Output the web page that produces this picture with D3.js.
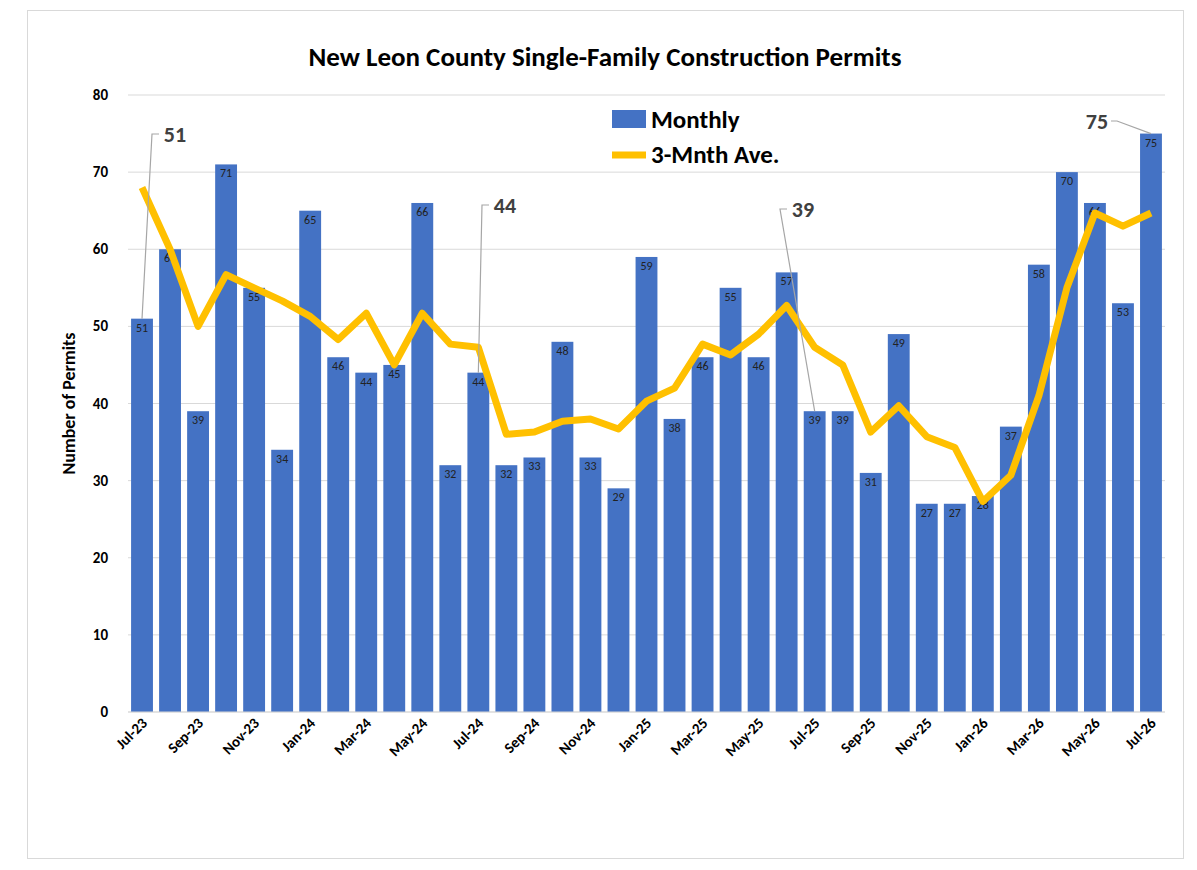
<!DOCTYPE html>
<html><head><meta charset="utf-8">
<script src="https://cdn.jsdelivr.net/npm/d3@7"></script>
<style>body{margin:0;background:#fff;font-family:Calibri,Carlito,"Liberation Sans",sans-serif}</style>
</head><body><div id="chart"></div>
<script>
var months = ["Jul-23","Aug-23","Sep-23","Oct-23","Nov-23","Dec-23","Jan-24","Feb-24","Mar-24","Apr-24","May-24","Jun-24","Jul-24","Aug-24","Sep-24","Oct-24","Nov-24","Dec-24","Jan-25","Feb-25","Mar-25","Apr-25","May-25","Jun-25","Jul-25","Aug-25","Sep-25","Oct-25","Nov-25","Dec-25","Jan-26","Feb-26","Mar-26","Apr-26","May-26","Jun-26","Jul-26"];
var monthly = [51,60,39,71,55,34,65,46,44,45,66,32,44,32,33,48,33,29,59,38,46,55,46,57,39,39,31,49,27,27,28,37,58,70,66,53,75];
var avg3 = [68,60,50,56.7,55,53.3,51.3,48.3,51.7,45,51.7,47.7,47.3,36,36.3,37.7,38,36.7,40.3,42,47.7,46.3,49,52.7,47.3,45,36.3,39.7,35.7,34.3,27.3,30.7,41,55,64.7,63,64.7];
var yTicks = [0,10,20,30,40,50,60,70,80];
var callouts = [
	{m:"Jul-23", text:"51", tx:175, ty:142},
	{m:"Jul-24", text:"44", tx:505, ty:213},
	{m:"Jul-25", text:"39", tx:803, ty:217},
	{m:"Jul-26", text:"75", tx:1097, ty:129}
];

var w = 1197, h = 870;
var left = 128, right = 1165, plotTop = 95, bottom = 712;
var font = "Calibri,Carlito,'Liberation Sans',sans-serif";

var svg = d3.select("#chart").append("svg").attr("width", w).attr("height", h);
svg.append("rect").attr("x",27.5).attr("y",10.5).attr("width",1156).attr("height",848)
	.attr("fill","#fff").attr("stroke","#d9d9d9");

var x = d3.scaleBand().domain(months).range([left, right]).paddingInner(0.22).paddingOuter(0.11);
var y = d3.scaleLinear().domain([0,80]).range([bottom, plotTop]);

//Gridlines
svg.selectAll(".grid").data(yTicks).enter().append("line")
	.attr("x1", left).attr("x2", right)
	.attr("y1", function (d) { return y(d); }).attr("y2", function (d) { return y(d); })
	.attr("stroke","#d9d9d9");

//Y axis labels
svg.selectAll(".yl").data(yTicks).enter().append("text")
	.attr("x", left - 20).attr("y", function (d) { return y(d) + 5; })
	.attr("text-anchor","end").attr("font-size",15).attr("font-weight","bold")
	.attr("font-family", font).text(function (d) { return d; });

//Bars
svg.selectAll(".bar").data(monthly).enter().append("rect")
	.attr("x", function (d, i) { return x(months[i]); })
	.attr("y", function (d) { return y(d); })
	.attr("width", x.bandwidth())
	.attr("height", function (d) { return bottom - y(d); })
	.attr("fill","#4472c4");

//Bar labels
svg.selectAll(".bl").data(monthly).enter().append("text")
	.attr("x", function (d, i) { return x(months[i]) + x.bandwidth() / 2; })
	.attr("y", function (d) { return y(d) + 13; })
	.attr("text-anchor","middle").attr("font-size",12).attr("fill","#222")
	.attr("font-family", font).text(function (d) { return d; });

//Axis line
svg.append("line").attr("x1",left).attr("x2",right).attr("y1",bottom).attr("y2",bottom).attr("stroke","#d9d9d9");

//X labels, every other month
svg.selectAll(".xl").data(months.filter(function (d, i) { return i % 2 == 0; })).enter().append("text")
	.attr("transform", function (d) {
		return "translate(" + (x(d) + x.bandwidth() / 2 + 6) + "," + (bottom + 12) + ")rotate(-45)";
	})
	.attr("text-anchor","end").attr("font-size",15).attr("font-weight","bold")
	.attr("font-family", font).text(function (d) { return d; });

//3-month average line
var line = d3.line()
	.x(function (d, i) { return x(months[i]) + x.bandwidth() / 2; })
	.y(function (d) { return y(d); });
svg.append("path").datum(avg3).attr("d", line)
	.attr("fill","none").attr("stroke","#ffc000").attr("stroke-width",7).attr("stroke-linejoin","round");

//Callouts
callouts.forEach(function (c) {
	var i = months.indexOf(c.m);
	var bx = x(c.m) + x.bandwidth() / 2, by = y(monthly[i]);
	var pts;
	if (c.m == "Jul-26") {
		pts = bx + "," + by + " " + (c.tx + 20) + "," + (c.ty - 8) + " " + (c.tx + 14) + "," + (c.ty - 8);
	} else {
		var lx = c.tx - 22;
		pts = bx + "," + by + " " + (lx - 1) + "," + (c.ty - 8) + " " + (lx + 6) + "," + (c.ty - 8);
	}
	svg.append("polyline").attr("points", pts)
		.attr("fill","none").attr("stroke","#a6a6a6").attr("stroke-width",1.2);
	svg.append("text").attr("x", c.tx).attr("y", c.ty).attr("text-anchor","middle")
		.attr("font-size",22).attr("font-weight","bold").attr("fill","#404040")
		.attr("font-family", font).text(c.text);
});

//Title
svg.append("text").attr("x", 605).attr("y", 66).attr("text-anchor","middle")
	.attr("font-size",27).attr("font-weight","bold").attr("font-family", font)
	.text("New Leon County Single-Family Construction Permits");

//Y title
svg.append("text").attr("transform","translate(75," + ((plotTop + bottom) / 2) + ")rotate(-90)")
	.attr("text-anchor","middle").attr("font-size",18).attr("font-weight","bold")
	.attr("font-family", font).text("Number of Permits");

//Legend
svg.append("rect").attr("x",612).attr("y",110).attr("width",34).attr("height",18).attr("fill","#4472c4");
svg.append("text").attr("x",651).attr("y",128).attr("font-size",25).attr("font-weight","bold")
	.attr("font-family", font).text("Monthly");
svg.append("line").attr("x1",612).attr("x2",646).attr("y1",155).attr("y2",155)
	.attr("stroke","#ffc000").attr("stroke-width",7);
svg.append("text").attr("x",651).attr("y",163).attr("font-size",25).attr("font-weight","bold")
	.attr("font-family", font).text("3-Mnth Ave.");
</script></body></html>
